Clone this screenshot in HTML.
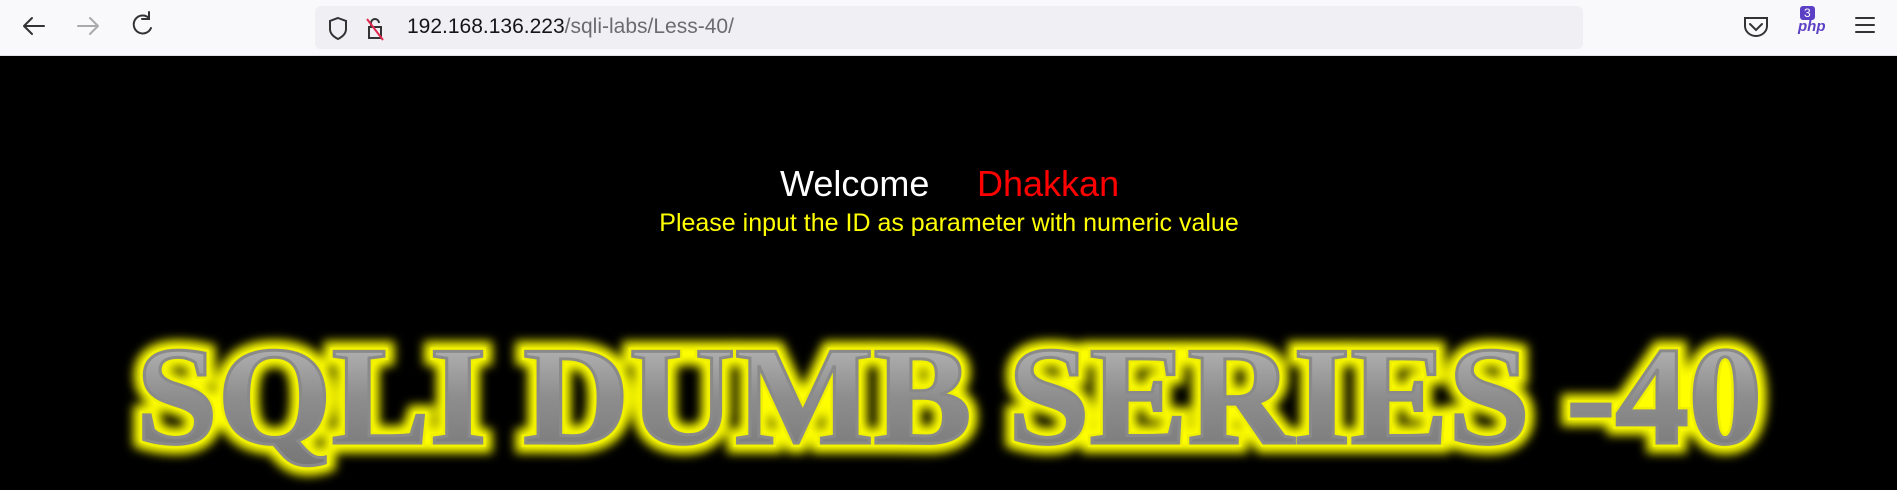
<!DOCTYPE html>
<html><head><style>
body{margin:0;width:1897px;height:490px;background:#000;overflow:hidden;font-family:"Liberation Sans","DejaVu Sans",sans-serif;position:relative}
.bar{position:absolute;left:0;top:0;width:1897px;height:55px;background:#f9f9fb;border-bottom:1px solid #e0e0e6}
.url{position:absolute;left:315px;top:6px;width:1268px;height:43px;background:#f0f0f4;border-radius:6px}
.t{position:absolute;white-space:nowrap}
</style></head><body>
<div class="bar">
<svg width="1897" height="55" style="position:absolute;left:0;top:0">
<g stroke="#333" stroke-width="2" fill="none" stroke-linecap="round">
<path d="M24 26 H44 M24 26 L32 18 M24 26 L32 34"/>
<path d="M98 26 H78 M98 26 L90 18 M98 26 L90 34" stroke="#aaa"/>
<path d="M149 18 A9 9 0 1 0 151 28 M149 12 V19 H142"/>
<path d="M1856 18 H1874 M1856 25 H1874 M1856 32 H1874"/>
<path d="M1745 18 H1767 V26 A11 10 0 0 1 1745 26 Z M1750 24 L1756 30 L1762 24"/>
<path d="M1560 14 L1563 22 L1571 22 L1565 27 L1567 35 L1560 30 L1553 35 L1555 27 L1549 22 L1557 22 Z"/>
</g>
</svg>
<div class="url">
<svg width="80" height="43" style="position:absolute;left:0;top:0">
<path d="M23 12 L31 15 V23 C31 28 27 31 23 33 C19 31 15 28 15 23 V15 Z" fill="none" stroke="#333" stroke-width="2"/>
<rect x="54" y="21" width="12" height="11" fill="none" stroke="#333" stroke-width="2"/>
<path d="M56 21 V17 A4 4 0 0 1 64 17" fill="none" stroke="#333" stroke-width="2"/>
<path d="M52 13 L68 34" stroke="#e22850" stroke-width="2"/>
</svg>
<div class="t" style="left:92px;top:9px;font-size:21px;color:#15141a">192.168.136.223<span style="color:#6b6b72">/sqli-labs/Less-40/</span></div>
</div>
<div class="t" style="left:1800px;top:6px;background:#5b3fc4;color:#fff;font-size:12px;padding:0 4px;border-radius:3px">3</div>
<div class="t" style="left:1798px;top:18px;color:#5b3fc4;font-size:15px;font-style:italic;font-weight:bold">php</div>
</div>
<div class="t" style="left:780px;top:163px;font-size:36px;color:#fff">Welcome</div>
<div class="t" style="left:977px;top:163px;font-size:36px;color:#f00">Dhakkan</div>
<div class="t" style="left:651px;top:209px;font-size:25px;color:#ff0;width:596px;text-align:center">Please input the ID as parameter with numeric value</div>
<svg width="1897" height="490" style="position:absolute;left:0;top:0">
<defs>
<linearGradient id="g" x1="0" y1="0" x2="0" y2="1"><stop offset="0" stop-color="#c4c4c4"/><stop offset="0.5" stop-color="#8e8e8e"/><stop offset="1" stop-color="#747474"/></linearGradient>
<filter id="f" x="-5%" y="-30%" width="110%" height="160%"><feGaussianBlur stdDeviation="5"/></filter>
</defs>
<text x="136" y="443" font-family="Liberation Serif,serif" font-weight="bold" font-size="140" textLength="1626" lengthAdjust="spacingAndGlyphs" fill="#ff0" stroke="#ff0" stroke-width="20" filter="url(#f)">SQLI DUMB SERIES -40</text>
<text x="136" y="443" font-family="Liberation Serif,serif" font-weight="bold" font-size="140" textLength="1626" lengthAdjust="spacingAndGlyphs" fill="url(#g)" stroke="#f0f000" stroke-width="8" paint-order="stroke">SQLI DUMB SERIES -40</text>
<text x="136" y="443" font-family="Liberation Serif,serif" font-weight="bold" font-size="140" textLength="1626" lengthAdjust="spacingAndGlyphs" fill="url(#g)" stroke="#8a8a8a" stroke-width="3">SQLI DUMB SERIES -40</text>
</svg>
</body></html>
